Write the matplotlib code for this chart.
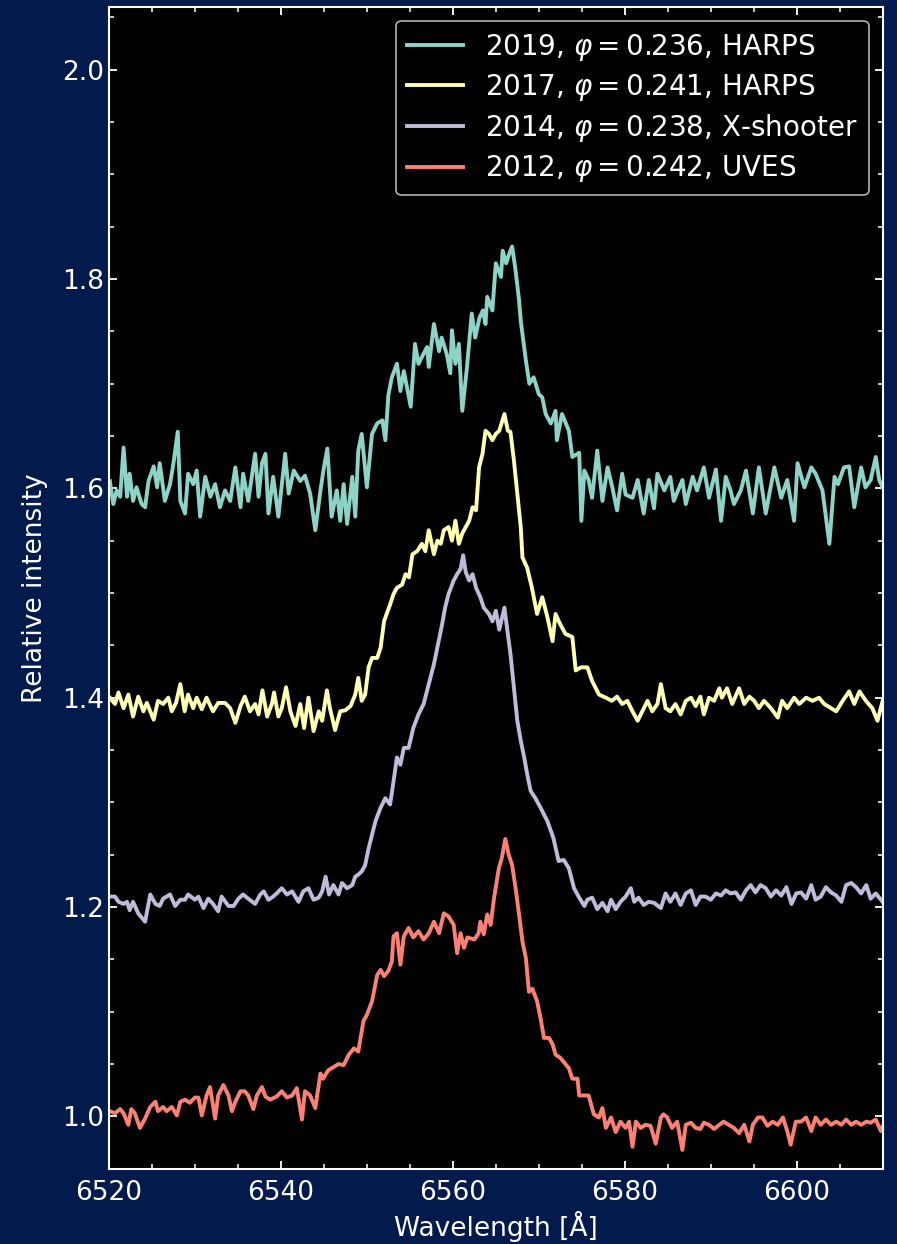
import matplotlib
matplotlib.use("Agg")
import matplotlib.pyplot as plt
from matplotlib.ticker import MultipleLocator

# ---------------- data: H-alpha profiles (wavelength [A], relative intensity) ----------------
labels = [
    r"2019, $\varphi = 0.236$, HARPS",
    r"2017, $\varphi = 0.241$, HARPS",
    r"2014, $\varphi = 0.238$, X-shooter",
    r"2012, $\varphi = 0.242$, UVES",
]
colors = ["#8dd3c7", "#feffb3", "#bfbbd9", "#fa8174"]

wl_2019 = [6520.1, 6520.5, 6520.9, 6521.3, 6521.7, 6522.1, 6522.4, 6522.8, 6523.2, 6523.8,
           6524.2, 6524.6, 6525.2, 6525.6, 6525.9, 6526.5, 6527.1, 6527.5, 6528.0, 6528.3,
           6528.85, 6529.2, 6529.8, 6530.2, 6530.6, 6531.2, 6531.8, 6532.35, 6532.9, 6533.5,
           6534.1, 6534.7, 6535.3, 6535.6, 6536.2, 6537.0, 6537.4, 6537.8, 6538.2, 6538.55,
           6539.1, 6539.7, 6540.5, 6540.9, 6541.5, 6542.25, 6542.8, 6543.4, 6544.0, 6544.6,
           6545.0, 6545.4, 6545.9, 6546.5, 6546.9, 6547.3, 6547.7, 6548.3, 6548.65, 6549.0,
           6549.4, 6550.0, 6550.6, 6551.2, 6551.8, 6552.15, 6552.5, 6552.9, 6553.5, 6553.9,
           6554.3, 6555.1, 6555.6, 6556.0, 6557.0, 6557.2, 6557.8, 6558.4, 6558.7, 6559.3,
           6559.7, 6559.9, 6560.3, 6560.7, 6561.1, 6561.6, 6562.2, 6562.6, 6563.1, 6563.5,
           6563.8, 6564.0, 6564.6, 6565.0, 6565.6, 6565.8, 6566.2, 6566.6, 6566.9, 6567.3,
           6567.7, 6567.9, 6568.5, 6568.9, 6569.4, 6570.0, 6570.4, 6570.8, 6571.4, 6571.95,
           6572.1, 6572.7, 6573.5, 6573.9, 6574.7, 6574.95, 6575.3, 6575.8, 6576.2, 6576.8,
           6577.4, 6578.0, 6578.55, 6579.1, 6579.7, 6580.1, 6580.9, 6581.5, 6582.2, 6582.8,
           6583.4, 6583.8, 6584.6, 6585.3, 6585.7, 6586.7, 6587.1, 6587.9, 6588.4, 6589.2,
           6589.8, 6590.6, 6591.2, 6591.75, 6592.3, 6592.7, 6593.5, 6594.1, 6594.9, 6595.6,
           6596.4, 6597.4, 6598.2, 6598.9, 6599.7, 6600.1, 6600.9, 6601.7, 6602.2, 6603.0,
           6603.8, 6604.4, 6604.8, 6605.5, 6606.1, 6606.7, 6607.5, 6608.0, 6608.6, 6609.2,
           6609.6, 6610.0]
fl_2019 = [1.607, 1.585, 1.598, 1.592, 1.639, 1.592, 1.614, 1.588, 1.601, 1.585,
           1.582, 1.607, 1.621, 1.601, 1.624, 1.588, 1.604, 1.624, 1.654, 1.588,
           1.576, 1.614, 1.604, 1.617, 1.573, 1.611, 1.592, 1.604, 1.582, 1.598,
           1.588, 1.620, 1.582, 1.614, 1.588, 1.633, 1.592, 1.624, 1.633, 1.576,
           1.611, 1.573, 1.633, 1.595, 1.617, 1.607, 1.612, 1.595, 1.560, 1.598,
           1.620, 1.638, 1.573, 1.598, 1.569, 1.604, 1.566, 1.611, 1.573, 1.636,
           1.652, 1.601, 1.652, 1.662, 1.665, 1.646, 1.689, 1.706, 1.719, 1.693,
           1.712, 1.678, 1.738, 1.719, 1.735, 1.716, 1.757, 1.731, 1.744, 1.728,
           1.710, 1.751, 1.719, 1.738, 1.674, 1.712, 1.767, 1.744, 1.763, 1.770,
           1.757, 1.783, 1.770, 1.815, 1.802, 1.827, 1.815, 1.825, 1.831, 1.808,
           1.780, 1.760, 1.722, 1.700, 1.706, 1.690, 1.687, 1.671, 1.662, 1.674,
           1.646, 1.671, 1.655, 1.630, 1.634, 1.569, 1.617, 1.608, 1.591, 1.636,
           1.588, 1.620, 1.601, 1.579, 1.614, 1.594, 1.591, 1.608, 1.576, 1.608,
           1.581, 1.614, 1.598, 1.611, 1.588, 1.608, 1.585, 1.611, 1.598, 1.620,
           1.591, 1.618, 1.569, 1.611, 1.598, 1.585, 1.598, 1.617, 1.576, 1.620,
           1.576, 1.620, 1.591, 1.608, 1.569, 1.624, 1.601, 1.620, 1.614, 1.598,
           1.547, 1.611, 1.604, 1.620, 1.621, 1.582, 1.620, 1.601, 1.608, 1.630,
           1.608, 1.601]

wl_2017 = [6520.1, 6520.7, 6521.1, 6521.7, 6522.25, 6522.8, 6523.4, 6524.0, 6524.4, 6525.2,
           6525.7, 6526.3, 6526.9, 6527.3, 6527.8, 6528.3, 6528.8, 6529.2, 6529.8, 6530.2,
           6530.8, 6531.35, 6532.1, 6532.7, 6533.5, 6534.1, 6534.7, 6535.3, 6535.8, 6536.4,
           6537.0, 6537.4, 6537.85, 6538.4, 6538.95, 6539.2, 6539.7, 6540.1, 6540.6, 6541.1,
           6541.7, 6542.25, 6542.7, 6543.2, 6543.8, 6544.4, 6544.8, 6545.35, 6545.7, 6546.3,
           6546.9, 6547.5, 6548.1, 6548.65, 6549.0, 6549.4, 6549.8, 6550.2, 6550.6, 6551.2,
           6551.6, 6552.0, 6552.3, 6552.7, 6553.1, 6553.5, 6554.1, 6554.5, 6554.9, 6555.3,
           6555.85, 6556.4, 6556.8, 6557.2, 6557.8, 6558.2, 6558.6, 6558.95, 6559.5, 6559.9,
           6560.3, 6560.7, 6561.1, 6561.5, 6561.9, 6562.3, 6562.7, 6563.05, 6563.45, 6563.8,
           6564.2, 6564.6, 6565.0, 6565.4, 6566.0, 6566.4, 6566.7, 6567.1, 6567.5, 6567.9,
           6568.1, 6568.65, 6569.2, 6569.8, 6570.4, 6571.0, 6571.6, 6571.95, 6572.5, 6573.1,
           6573.9, 6574.3, 6574.9, 6575.65, 6576.2, 6577.0, 6577.8, 6578.5, 6579.1, 6579.7,
           6580.3, 6580.9, 6581.5, 6582.05, 6582.65, 6583.2, 6583.8, 6584.2, 6584.75, 6585.3,
           6585.9, 6586.5, 6587.1, 6587.7, 6588.25, 6588.8, 6589.2, 6589.8, 6590.4, 6591.0,
           6591.3, 6591.9, 6592.5, 6593.3, 6593.9, 6594.5, 6595.05, 6595.6, 6596.2, 6597.0,
           6597.8, 6598.3, 6598.9, 6599.7, 6600.3, 6601.1, 6601.85, 6602.6, 6603.2, 6604.0,
           6604.6, 6605.35, 6606.1, 6606.7, 6607.3, 6608.05, 6608.8, 6609.4, 6610.0]
fl_2017 = [1.400, 1.394, 1.405, 1.390, 1.403, 1.382, 1.401, 1.387, 1.395, 1.379,
           1.397, 1.394, 1.400, 1.387, 1.395, 1.413, 1.387, 1.403, 1.390, 1.400,
           1.389, 1.400, 1.387, 1.395, 1.395, 1.390, 1.376, 1.392, 1.401, 1.387,
           1.394, 1.384, 1.407, 1.382, 1.394, 1.405, 1.382, 1.390, 1.410, 1.387,
           1.373, 1.394, 1.371, 1.400, 1.368, 1.387, 1.378, 1.407, 1.390, 1.369,
           1.387, 1.388, 1.392, 1.403, 1.419, 1.397, 1.403, 1.429, 1.438, 1.438,
           1.448, 1.473, 1.480, 1.489, 1.499, 1.505, 1.508, 1.518, 1.515, 1.537,
           1.540, 1.547, 1.540, 1.560, 1.537, 1.550, 1.547, 1.560, 1.563, 1.550,
           1.569, 1.547, 1.557, 1.563, 1.569, 1.582, 1.579, 1.620, 1.633, 1.655,
           1.652, 1.646, 1.652, 1.655, 1.671, 1.655, 1.654, 1.627, 1.595, 1.563,
           1.534, 1.524, 1.505, 1.480, 1.496, 1.477, 1.454, 1.480, 1.470, 1.461,
           1.458, 1.426, 1.429, 1.429, 1.416, 1.403, 1.400, 1.397, 1.401, 1.394,
           1.397, 1.387, 1.378, 1.387, 1.397, 1.387, 1.394, 1.413, 1.390, 1.387,
           1.394, 1.384, 1.397, 1.400, 1.392, 1.401, 1.384, 1.400, 1.397, 1.409,
           1.400, 1.409, 1.394, 1.409, 1.394, 1.401, 1.397, 1.390, 1.397, 1.390,
           1.381, 1.397, 1.390, 1.400, 1.394, 1.400, 1.397, 1.400, 1.394, 1.390,
           1.387, 1.397, 1.406, 1.394, 1.406, 1.397, 1.390, 1.378, 1.397]

wl_2014 = [6520.1, 6520.7, 6521.1, 6521.7, 6522.1, 6522.4, 6522.8, 6523.4, 6524.2, 6524.8,
           6525.4, 6525.9, 6526.3, 6527.1, 6527.7, 6528.3, 6528.85, 6529.2, 6530.0, 6530.4,
           6531.0, 6531.55, 6532.1, 6532.7, 6533.1, 6533.9, 6534.5, 6535.05, 6535.6, 6536.2,
           6537.0, 6537.6, 6538.0, 6538.55, 6539.1, 6539.5, 6540.1, 6540.7, 6541.3, 6542.05,
           6542.6, 6543.2, 6543.8, 6544.4, 6544.8, 6545.2, 6545.6, 6546.1, 6546.7, 6547.1,
           6547.7, 6548.3, 6548.65, 6549.0, 6549.4, 6549.8, 6550.2, 6550.6, 6551.0, 6551.6,
           6552.15, 6552.7, 6553.1, 6553.5, 6553.9, 6554.3, 6554.85, 6555.4, 6556.0, 6556.6,
           6557.2, 6557.8, 6558.2, 6558.75, 6559.1, 6559.5, 6560.1, 6560.5, 6560.9, 6561.2,
           6561.5, 6561.9, 6562.3, 6562.7, 6563.2, 6563.6, 6564.2, 6564.6, 6565.0, 6565.4,
           6566.0, 6566.3, 6566.7, 6567.1, 6567.5, 6567.9, 6568.3, 6568.65, 6569.05, 6569.6,
           6570.2, 6571.0, 6571.7, 6572.3, 6572.9, 6573.5, 6574.1, 6574.7, 6575.3, 6575.65,
           6576.2, 6576.8, 6577.4, 6578.0, 6578.4, 6578.95, 6579.5, 6580.1, 6580.7, 6581.1,
           6581.6, 6582.2, 6582.8, 6583.4, 6584.2, 6584.75, 6585.3, 6585.9, 6586.5, 6587.1,
           6587.7, 6588.25, 6588.8, 6589.4, 6590.0, 6590.6, 6591.2, 6591.75, 6592.3, 6592.9,
           6593.5, 6594.1, 6594.65, 6595.2, 6595.8, 6596.4, 6597.0, 6597.6, 6598.2, 6598.8,
           6599.4, 6599.95, 6600.5, 6601.1, 6601.7, 6602.2, 6602.8, 6603.4, 6604.0, 6604.6,
           6605.2, 6605.75, 6606.35, 6606.9, 6607.5, 6608.1, 6608.6, 6609.2, 6610.0]
fl_2014 = [1.210, 1.210, 1.205, 1.203, 1.205, 1.197, 1.205, 1.194, 1.186, 1.212,
           1.203, 1.201, 1.208, 1.212, 1.201, 1.207, 1.207, 1.212, 1.207, 1.210,
           1.199, 1.208, 1.203, 1.196, 1.210, 1.201, 1.201, 1.208, 1.212, 1.208,
           1.203, 1.212, 1.215, 1.207, 1.210, 1.213, 1.218, 1.212, 1.215, 1.205,
           1.215, 1.218, 1.207, 1.209, 1.215, 1.229, 1.212, 1.221, 1.212, 1.223,
           1.218, 1.221, 1.229, 1.231, 1.234, 1.240, 1.256, 1.269, 1.282, 1.295,
           1.304, 1.298, 1.320, 1.343, 1.336, 1.352, 1.352, 1.371, 1.384, 1.394,
           1.413, 1.432, 1.448, 1.470, 1.486, 1.499, 1.512, 1.518, 1.523, 1.536,
           1.520, 1.512, 1.518, 1.505, 1.496, 1.486, 1.480, 1.473, 1.483, 1.465,
           1.486, 1.467, 1.442, 1.410, 1.378, 1.359, 1.343, 1.327, 1.311, 1.304,
           1.295, 1.282, 1.266, 1.244, 1.245, 1.237, 1.218, 1.209, 1.201, 1.207,
           1.209, 1.198, 1.204, 1.196, 1.207, 1.198, 1.205, 1.210, 1.218, 1.205,
           1.209, 1.202, 1.205, 1.204, 1.199, 1.213, 1.205, 1.213, 1.202, 1.213,
           1.216, 1.202, 1.210, 1.210, 1.207, 1.213, 1.211, 1.216, 1.213, 1.214,
           1.207, 1.216, 1.221, 1.214, 1.221, 1.218, 1.210, 1.216, 1.211, 1.219,
           1.203, 1.213, 1.214, 1.208, 1.221, 1.207, 1.210, 1.219, 1.214, 1.211,
           1.205, 1.221, 1.223, 1.219, 1.213, 1.221, 1.208, 1.213, 1.205]

wl_2012 = [6520.1, 6520.7, 6521.3, 6521.7, 6522.25, 6522.6, 6523.0, 6523.6, 6524.2, 6524.8,
           6525.4, 6525.7, 6526.3, 6526.7, 6527.3, 6527.9, 6528.3, 6528.85, 6529.4, 6530.0,
           6530.4, 6530.8, 6531.35, 6531.75, 6532.35, 6532.7, 6533.3, 6533.9, 6534.3, 6534.7,
           6535.3, 6535.8, 6536.2, 6536.8, 6537.2, 6537.8, 6538.2, 6538.75, 6539.5, 6540.1,
           6540.7, 6541.3, 6541.85, 6542.45, 6542.8, 6543.4, 6544.0, 6544.6, 6544.9, 6545.5,
           6546.1, 6546.7, 6547.3, 6547.9, 6548.5, 6549.0, 6549.6, 6550.0, 6550.6, 6551.2,
           6551.6, 6552.0, 6552.5, 6552.9, 6553.1, 6553.5, 6553.9, 6554.3, 6554.85, 6555.4,
           6556.0, 6556.6, 6557.2, 6557.8, 6558.4, 6558.95, 6559.5, 6560.1, 6560.5, 6560.9,
           6561.3, 6561.7, 6562.5, 6563.0, 6563.2, 6563.6, 6564.0, 6564.4, 6564.8, 6565.35,
           6565.7, 6566.1, 6566.5, 6566.9, 6567.3, 6567.7, 6568.1, 6568.5, 6568.85, 6569.25,
           6569.8, 6570.2, 6570.6, 6571.2, 6571.6, 6571.95, 6572.5, 6573.1, 6573.5, 6573.9,
           6574.5, 6574.7, 6575.3, 6575.8, 6576.4, 6577.0, 6577.4, 6577.8, 6578.4, 6578.95,
           6579.5, 6580.1, 6580.5, 6580.9, 6581.3, 6581.85, 6582.4, 6583.0, 6583.6, 6584.2,
           6584.5, 6584.95, 6585.5, 6586.1, 6586.7, 6587.1, 6587.7, 6588.25, 6588.8, 6589.2,
           6589.8, 6590.4, 6591.0, 6591.5, 6592.1, 6592.7, 6593.3, 6593.9, 6594.5, 6594.9,
           6595.5, 6596.0, 6596.6, 6597.2, 6597.8, 6598.4, 6598.9, 6599.3, 6599.9, 6600.5,
           6601.1, 6601.7, 6602.2, 6602.8, 6603.4, 6604.0, 6604.6, 6605.2, 6605.75, 6606.35,
           6606.9, 6607.5, 6608.1, 6608.6, 6609.2, 6609.8, 6610.2]
fl_2012 = [1.005, 1.003, 1.007, 1.003, 0.992, 1.007, 1.003, 0.989, 0.998, 1.009,
           1.014, 1.005, 1.009, 1.005, 1.009, 1.001, 1.014, 1.016, 1.013, 1.018,
           1.018, 1.001, 1.020, 1.028, 0.998, 1.020, 1.030, 1.020, 1.005, 1.014,
           1.024, 1.024, 1.020, 1.007, 1.020, 1.028, 1.019, 1.016, 1.019, 1.024,
           1.018, 1.020, 1.027, 0.997, 1.024, 1.020, 1.008, 1.041, 1.036, 1.044,
           1.047, 1.050, 1.049, 1.059, 1.065, 1.062, 1.091, 1.097, 1.110, 1.135,
           1.140, 1.134, 1.139, 1.148, 1.172, 1.175, 1.145, 1.172, 1.180, 1.171,
           1.177, 1.169, 1.175, 1.186, 1.175, 1.194, 1.191, 1.183, 1.156, 1.175,
           1.161, 1.171, 1.169, 1.175, 1.186, 1.174, 1.193, 1.183, 1.209, 1.237,
           1.247, 1.265, 1.250, 1.240, 1.218, 1.193, 1.167, 1.151, 1.119, 1.122,
           1.110, 1.094, 1.075, 1.075, 1.069, 1.059, 1.056, 1.050, 1.046, 1.036,
           1.036, 1.020, 1.020, 1.020, 1.002, 0.999, 1.008, 0.989, 0.999, 0.985,
           0.995, 0.989, 0.995, 0.971, 0.995, 0.989, 0.992, 0.991, 0.974, 0.999,
           1.002, 0.999, 0.989, 0.995, 0.968, 0.992, 0.994, 0.989, 0.988, 0.994,
           0.992, 0.988, 0.992, 0.995, 0.992, 0.989, 0.984, 0.992, 0.976, 0.992,
           0.999, 0.999, 0.991, 0.995, 0.992, 0.999, 0.986, 0.973, 0.995, 0.995,
           0.999, 0.986, 0.999, 0.992, 0.997, 0.992, 0.995, 0.992, 0.997, 0.992,
           0.995, 0.992, 0.995, 0.994, 0.997, 0.986, 0.994]

series = [(wl_2019, fl_2019), (wl_2017, fl_2017), (wl_2014, fl_2014), (wl_2012, fl_2012)]

# ---------------- figure ----------------
plt.style.use("dark_background")
plt.rcParams["font.family"] = ["DejaVu Sans"]
plt.rcParams["mathtext.fontset"] = "dejavusans"

fig = plt.figure(figsize=(8.97, 12.44), dpi=100, facecolor="#021b4c")
ax = fig.add_axes([0.1215, 0.0605, 0.8625, 0.934])
ax.set_facecolor("black")

for (wl, fl), lab, col in zip(series, labels, colors):
    ax.plot(wl, fl, color=col, lw=2.8, label=lab)

ax.set_xlim(6520, 6610)
ax.set_ylim(0.95, 2.06)
ax.xaxis.set_major_locator(MultipleLocator(20))
ax.xaxis.set_minor_locator(MultipleLocator(5))
ax.yaxis.set_major_locator(MultipleLocator(0.2))
ax.yaxis.set_minor_locator(MultipleLocator(0.05))

ax.tick_params(which="both", direction="in", top=True, right=True, colors="white",
               labelsize=19)
ax.tick_params(which="major", length=6, width=1.3)
ax.tick_params(which="minor", length=3.5, width=1.1)
ax.tick_params(axis="x", pad=8)
for sp in ax.spines.values():
    sp.set_color("white")
    sp.set_linewidth(1.5)

ax.set_xlabel("Wavelength [Å]", fontsize=19, color="white", labelpad=4)
ax.set_ylabel("Relative intensity", fontsize=19, color="white", labelpad=10)

leg = ax.legend(loc="upper right", fontsize=20, frameon=True, facecolor="black",
                edgecolor="0.7", framealpha=1.0, handlelength=2.0,
                labelspacing=0.33, borderpad=0.4)
leg.get_frame().set_linewidth(1.2)

fig.savefig("out.png", dpi=100, facecolor=fig.get_facecolor())
